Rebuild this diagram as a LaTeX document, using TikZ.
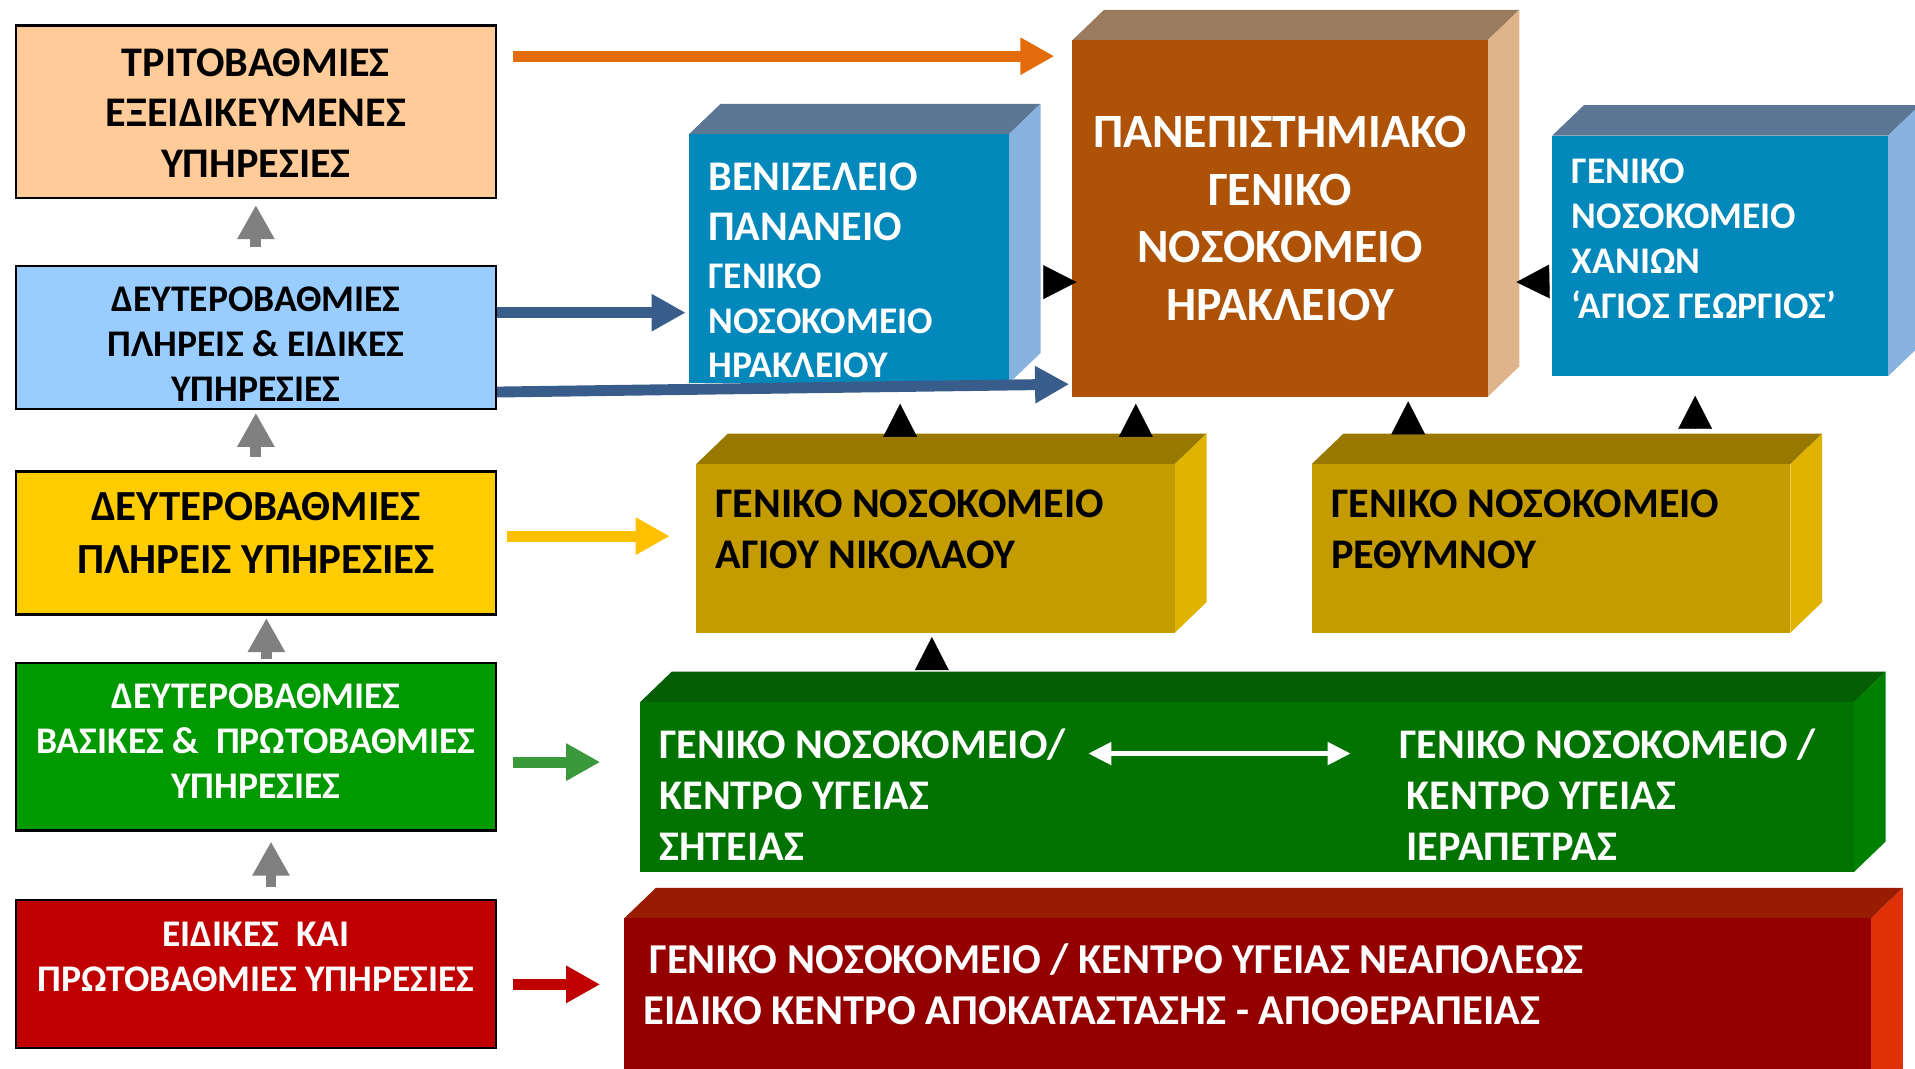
\documentclass[tikz,border=0pt]{standalone}
\usepackage{fontspec}
\setmainfont{Carlito}
\usetikzlibrary{arrows.meta,fit,calc}

\definecolor{cTert}{HTML}{FFCC99}
\definecolor{cPful}{HTML}{99CCFF}
\definecolor{cPl}{HTML}{FFCC00}
\definecolor{cVas}{HTML}{009900}
\definecolor{cEid}{HTML}{C00000}
\definecolor{panF}{HTML}{AE5208}
\definecolor{panT}{HTML}{9A7B5D}
\definecolor{panS}{HTML}{E0B48A}
\definecolor{blF}{HTML}{0288BA}
\definecolor{blT}{HTML}{5B7795}
\definecolor{blS}{HTML}{88B2DF}
\definecolor{goF}{HTML}{C49C00}
\definecolor{goT}{HTML}{997800}
\definecolor{goS}{HTML}{DFB300}
\definecolor{grF}{HTML}{007300}
\definecolor{grT}{HTML}{045E04}
\definecolor{grS}{HTML}{008000}
\definecolor{rdF}{HTML}{940000}
\definecolor{rdT}{HTML}{981C02}
\definecolor{rdS}{HTML}{E03008}
\definecolor{arOr}{HTML}{E46C0A}
\definecolor{arBl}{HTML}{385D8A}
\definecolor{arYe}{HTML}{FFC000}
\definecolor{arGr}{HTML}{3A993A}
\definecolor{arRd}{HTML}{C00000}
\definecolor{arGy}{HTML}{808080}

\newcommand{\fA}{\fontsize{12}{14.4}\selectfont}
\newcommand{\fB}{\fontsize{10.7}{12.8}\selectfont}
\newcommand{\fC}{\fontsize{13.6}{16.4}\selectfont}

% 3D block: name, x1, y1, x2, y2, front, top, side
\newcommand{\blok}[8]{%
  \fill[#7] (#2,#3) -- (#2+26,#3-25) -- (#4+26,#3-25) -- (#4,#3) -- cycle;
  \fill[#8] (#4,#3) -- (#4+26,#3-25) -- (#4+26,#5-25) -- (#4,#5) -- cycle;
  \node[fit={(#2,#3) (#4,#5)}, inner sep=0pt, fill=#6] (#1) {};
}

\begin{document}
\begin{tikzpicture}[x=0.012213cm, y=-0.012213cm,
    lvl/.style={draw=black, line width=0.7pt, inner sep=0pt},
    ctr/.style={align=center, inner sep=0pt, font=\bfseries\fA},
    lft/.style={align=left, inner sep=0pt, anchor=north west, font=\bfseries\fA},
    big/.style={line width=3.1pt, -{Triangle[length=9.7pt,width=10pt]}},
    tri/.style={line width=0.1pt, -{Triangle[length=9.4pt,width=9.6pt]}},
    dbl/.style={white, line width=1.6pt, {Triangle[length=6.6pt,width=6.2pt]}-{Triangle[length=6.6pt,width=6.2pt]}}]
    \useasboundingbox (0,0) rectangle (1568,875);
    % the hospitals as blocks
    \blok{pan}{878}{33}{1218}{325}{panF}{panT}{panS}
    \blok{ben}{564}{110}{826}{314}{blF}{blT}{blS}
    \blok{chan}{1271}{111}{1546}{308}{blF}{blT}{blS}
    \blok{nik}{570}{380}{962}{518}{goF}{goT}{goS}
    \blok{reth}{1074}{380}{1466}{518}{goF}{goT}{goS}
    \blok{sit}{524}{575}{1518}{714}{grF}{grT}{grS}
    \blok{neap}{511}{752}{1532}{900}{rdF}{rdT}{rdS}
    % their names
    \node[ctr, white, font=\bfseries\fC] (pantxt) at (pan.center) {ΠΑΝΕΠΙΣΤΗΜΙΑΚΟ\\ΓΕΝΙΚΟ\\ΝΟΣΟΚΟΜΕΙΟ\\ΗΡΑΚΛΕΙΟΥ};
    \node[lft, white] (bentxt) at ($(ben.north west)+(16,23)$) {ΒΕΝΙΖΕΛΕΙΟ\\ΠΑΝΑΝΕΙΟ\\[-0.8pt]{\fB ΓΕΝΙΚΟ}\\[-1.7pt]{\fB ΝΟΣΟΚΟΜΕΙΟ}\\[-1.7pt]{\fB ΗΡΑΚΛΕΙΟΥ}};
    \node[lft, white, font=\bfseries\fB] (chantxt) at ($(chan.north west)+(16,19)$) {ΓΕΝΙΚΟ\\ΝΟΣΟΚΟΜΕΙΟ\\ΧΑΝΙΩΝ\\‘ΑΓΙΟΣ ΓΕΩΡΓΙΟΣ’};
    \node[lft] (niktxt) at ($(nik.north west)+(16,21)$) {ΓΕΝΙΚΟ ΝΟΣΟΚΟΜΕΙΟ\\ΑΓΙΟΥ ΝΙΚΟΛΑΟΥ};
    \node[lft] (rethtxt) at ($(reth.north west)+(16,21)$) {ΓΕΝΙΚΟ ΝΟΣΟΚΟΜΕΙΟ\\ΡΕΘΥΜΝΟΥ};
    \node[lft, white] (sittxt) at ($(sit.north west)+(16,22)$) {ΓΕΝΙΚΟ ΝΟΣΟΚΟΜΕΙΟ/\\ΚΕΝΤΡΟ ΥΓΕΙΑΣ\\ΣΗΤΕΙΑΣ};
    \node[lft, white] (iertxt) at ($(sit.north west)+(622,22)$) {ΓΕΝΙΚΟ ΝΟΣΟΚΟΜΕΙΟ /\\\hspace*{2pt}ΚΕΝΤΡΟ ΥΓΕΙΑΣ\\\hspace*{2pt}ΙΕΡΑΠΕΤΡΑΣ};
    \node[lft, white, font=\bfseries\fontsize{12.1}{14.5}\selectfont] (neaptxt) at ($(neap.north west)+(21,21)$) {ΓΕΝΙΚΟ ΝΟΣΟΚΟΜΕΙΟ / ΚΕΝΤΡΟ ΥΓΕΙΑΣ ΝΕΑΠΟΛΕΩΣ\\\hspace*{-1.7pt}ΕΙΔΙΚΟ ΚΕΝΤΡΟ ΑΠΟΚΑΤΑΣΤΑΣΗΣ - ΑΠΟΘΕΡΑΠΕΙΑΣ};
    % levels of care
    \node[lvl, fill=cTert, fit={(13,21) (406,162)}] (tert) {};
    \node[ctr] (terttxt) at ($(tert.center)+(0,1)$) {ΤΡΙΤΟΒΑΘΜΙΕΣ\\ΕΞΕΙΔΙΚΕΥΜΕΝΕΣ\\ΥΠΗΡΕΣΙΕΣ};
    \node[lvl, fill=cPful, fit={(13,218) (406,335)}] (pful) {};
    \node[ctr, font=\bfseries\fB] (pfultxt) at ($(pful.center)+(0,5)$) {ΔΕΥΤΕΡΟΒΑΘΜΙΕΣ\\ΠΛΗΡΕΙΣ \& ΕΙΔΙΚΕΣ\\ΥΠΗΡΕΣΙΕΣ};
    \node[lvl, fill=cPl, fit={(13,386) (406,503)}] (pl) {};
    \node[ctr, font=\bfseries\fontsize{12.2}{14.9}\selectfont] (pltxt) at ($(pl.center)+(0,-8)$) {ΔΕΥΤΕΡΟΒΑΘΜΙΕΣ\\ΠΛΗΡΕΙΣ ΥΠΗΡΕΣΙΕΣ};
    \node[lvl, fill=cVas, fit={(13,543) (406,680)}] (vas) {};
    \node[ctr, white, font=\bfseries\fB] (vastxt) at ($(vas.center)+(0,-4.5)$) {ΔΕΥΤΕΡΟΒΑΘΜΙΕΣ\\ΒΑΣΙΚΕΣ \&~~ΠΡΩΤΟΒΑΘΜΙΕΣ\\ΥΠΗΡΕΣΙΕΣ};
    \node[lvl, fill=cEid, fit={(13,737) (406,858)}] (eid) {};
    \node[ctr, white, font=\bfseries\fB] (eidtxt) at ($(eid.center)+(0,-14)$) {ΕΙΔΙΚΕΣ~~ΚΑΙ\\ΠΡΩΤΟΒΑΘΜΙΕΣ ΥΠΗΡΕΣΙΕΣ};
    % grey arrows up the levels
    \draw[big, arGy, shorten <=5.2pt, shorten >=1.7pt] (pful.north) -- (tert.south);
    \draw[big, arGy, shorten <=3.8pt, shorten >=0.7pt] (pl.north) -- (pful.south);
    \draw[big, arGy, shorten <=0.7pt, shorten >=0.7pt] ([xshift=3pt]vas.north) -- ([xshift=3pt]pl.south);
    \draw[big, arGy, shorten <=3.5pt, shorten >=2.8pt] ([xshift=4.3pt]eid.north) -- ([xshift=4.3pt]vas.south);
    % arrows from the levels to the hospitals
    \draw[big, arOr, shorten <=4.5pt, shorten >=4.9pt] ($(tert.east)+(0,-45.5)$) -- ($(pan.west |- tert.east)+(0,-45.5)$);
    \draw[big, arBl, shorten >=0.7pt] ($(pful.east)+(0,-20.5)$) -- ($(ben.west |- pful.east)+(0,-20.5)$);
    \draw[big, arBl] ($(pful.east)+(0,44.5)$) -- ($(pan.south west)+(-2,-11)$);
    \draw[big, arYe, shorten <=2.8pt, shorten >=7.3pt] ($(pl.east)+(0,-5.5)$) -- ($(nik.west |- pl.east)+(0,-5.5)$);
    \draw[big, arGr, shorten <=4.5pt, shorten >=11.1pt] ($(vas.east)+(0,12.5)$) -- ($(sit.west |- vas.east)+(0,12.5)$);
    \draw[big, arRd, shorten <=4.5pt, shorten >=6.6pt] ($(eid.east)+(0,8.5)$) -- ($(neap.west |- eid.east)+(0,8.5)$);
    % black heads between hospitals
    \draw[tri] ($(ben.east)+(29,19)$) -- ($(pan.west)+(4,52)$);
    \draw[tri] ($(chan.west)+(-3,21)$) -- ($(pan.east)+(23,52)$);
    \draw[tri] ($(nik.north)+(-29,-23)$) -- ($(ben.south)+(42,16)$);
    \draw[tri] ($(nik.north)+(164,-23)$) -- ($(pan.south)+(-118,5)$);
    \draw[tri] ($(reth.north)+(-117,-25)$) -- ($(pan.south)+(105,3)$);
    \draw[tri] ($(reth.north)+(118,-29)$) -- ($(chan.south)+(-20.5,15.5)$);
    \draw[tri] ($(sit.north)+(-258,-27)$) -- ($(nik.south)+(-3,3)$);
    % Sitia <-> Ierapetra
    \coordinate (dl) at (891,617);
    \coordinate (dr) at (1106,617);
    \draw[dbl] (dl) -- (dr);
\end{tikzpicture}
\end{document}
